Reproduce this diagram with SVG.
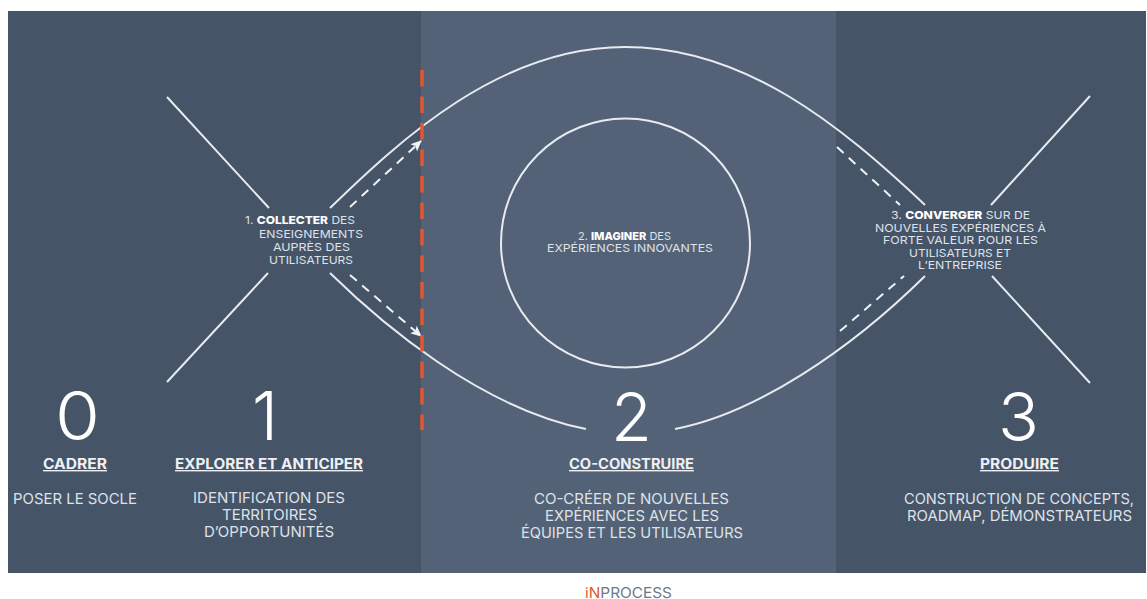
<svg xmlns="http://www.w3.org/2000/svg" width="1147" height="599" viewBox="0 0 1147 599">
<style>
text{font-family:"Inter","Liberation Sans",sans-serif;fill:#dfe2e8;text-anchor:start}
.d{font-size:67px;font-weight:300;fill:#fff}
.h{font-size:14px;font-weight:700;fill:#eef0f3;text-decoration:underline}
.b{font-size:15px;font-weight:400}
.s{font-size:11px;font-weight:400}
.s tspan{font-weight:800;fill:#fff}
.l{fill:none;stroke:#e8ebef;stroke-width:2}
.a{fill:none;stroke:#f2f3f5;stroke-width:2;stroke-dasharray:9 7}
</style>
<defs><marker id="ah" markerWidth="12" markerHeight="12" refX="10" refY="5" orient="auto" markerUnits="userSpaceOnUse"><path d="M0 0L11 5L0 10L2.500 5Z" fill="#f2f3f5"/></marker></defs>
<rect width="1147" height="599" fill="#fff"/>
<g id="panels">
<rect x="8" y="11" width="413" height="562" fill="#465468"/>
<rect x="421" y="11" width="415" height="562" fill="#536277"/>
<rect x="836" y="11" width="310" height="562" fill="#465468"/>
</g>
<g id="connectors">
<path class="l" d="M167 97L269 208M167 382L268 273M991 205L1090 96M992 276L1090 383"/>
<path class="l" d="M330 208C400 140 500 47 625 47C745 47 840 125 925 205"/>
<path class="l" d="M330 273C380 322 480 408 586 429"/>
<path class="l" d="M675 429C755 414 850 350 925 276"/>
<path class="a" d="M350 207L421 141" marker-end="url(#ah)"/>
<path class="a" d="M350 275L421 336" marker-end="url(#ah)"/>
<path class="a" d="M837 147L900 205"/>
<path class="a" d="M840 331L904 276"/>
<path fill="none" stroke="#e4572e" stroke-width="3.500" stroke-dasharray="16.500 10" d="M422 70V430"/>
</g>
<g id="node-collecter">
<text class="s" x="245" y="224" textLength="110" lengthAdjust="spacingAndGlyphs">1. <tspan>COLLECTER</tspan> DES</text>
<text class="s" x="259" y="237.500" textLength="104" lengthAdjust="spacingAndGlyphs">ENSEIGNEMENTS</text>
<text class="s" x="273" y="251" textLength="77" lengthAdjust="spacingAndGlyphs">AUPRÈS DES</text>
<text class="s" x="269" y="264" textLength="84" lengthAdjust="spacingAndGlyphs">UTILISATEURS</text>
</g>
<g id="node-imaginer">
<circle class="l" cx="625.500" cy="243" r="124.500"/>
<text class="s" x="578" y="240" textLength="93" lengthAdjust="spacingAndGlyphs">2. <tspan>IMAGINER</tspan> DES</text>
<text class="s" x="547" y="252" textLength="166" lengthAdjust="spacingAndGlyphs">EXPÉRIENCES INNOVANTES</text>
</g>
<g id="node-converger">
<text class="s" x="891" y="219" textLength="139" lengthAdjust="spacingAndGlyphs">3. <tspan>CONVERGER</tspan> SUR DE</text>
<text class="s" x="875" y="232" textLength="171" lengthAdjust="spacingAndGlyphs">NOUVELLES EXPÉRIENCES À</text>
<text class="s" x="883" y="244" textLength="155" lengthAdjust="spacingAndGlyphs">FORTE VALEUR POUR LES</text>
<text class="s" x="909" y="256.500" textLength="102" lengthAdjust="spacingAndGlyphs">UTILISATEURS ET</text>
<text class="s" x="918" y="269" textLength="84" lengthAdjust="spacingAndGlyphs">L’ENTREPRISE</text>
</g>
<g id="step-0">
<text class="d" x="55" y="440" textLength="45" lengthAdjust="spacingAndGlyphs">0</text>
<text class="h" x="43" y="469" textLength="64" lengthAdjust="spacingAndGlyphs">CADRER</text>
<text class="b" x="13" y="504" textLength="124" lengthAdjust="spacingAndGlyphs">POSER LE SOCLE</text>
</g>
<g id="step-1">
<text class="d" x="252" y="440" textLength="26" lengthAdjust="spacingAndGlyphs">1</text>
<text class="h" x="175" y="469" textLength="188" lengthAdjust="spacingAndGlyphs">EXPLORER ET ANTICIPER</text>
<text class="b" x="193" y="503" textLength="152" lengthAdjust="spacingAndGlyphs">IDENTIFICATION DES</text>
<text class="b" x="222" y="520" textLength="95" lengthAdjust="spacingAndGlyphs">TERRITOIRES</text>
<text class="b" x="204" y="537" textLength="130" lengthAdjust="spacingAndGlyphs">D’OPPORTUNITÉS</text>
</g>
<g id="step-2">
<text class="d" x="611" y="441" textLength="41" lengthAdjust="spacingAndGlyphs">2</text>
<text class="h" x="569" y="469" textLength="125" lengthAdjust="spacingAndGlyphs">CO-CONSTRUIRE</text>
<text class="b" x="534" y="504" textLength="195" lengthAdjust="spacingAndGlyphs">CO-CRÉER DE NOUVELLES</text>
<text class="b" x="545" y="521" textLength="174" lengthAdjust="spacingAndGlyphs">EXPÉRIENCES AVEC LES</text>
<text class="b" x="521" y="538" textLength="222" lengthAdjust="spacingAndGlyphs">ÉQUIPES ET LES UTILISATEURS</text>
</g>
<g id="step-3">
<text class="d" x="998" y="441" textLength="41" lengthAdjust="spacingAndGlyphs">3</text>
<text class="h" x="980" y="469" textLength="79" lengthAdjust="spacingAndGlyphs">PRODUIRE</text>
<text class="b" x="904" y="504" textLength="230" lengthAdjust="spacingAndGlyphs">CONSTRUCTION DE CONCEPTS,</text>
<text class="b" x="907" y="521" textLength="225" lengthAdjust="spacingAndGlyphs">ROADMAP, DÉMONSTRATEURS</text>
</g>
<g id="logo">
<text x="585" y="597.500" font-size="14" textLength="87" lengthAdjust="spacingAndGlyphs" style="fill:#6f7886"><tspan style="fill:#e4572e">iN</tspan>PROCESS</text>
</g>
</svg>
